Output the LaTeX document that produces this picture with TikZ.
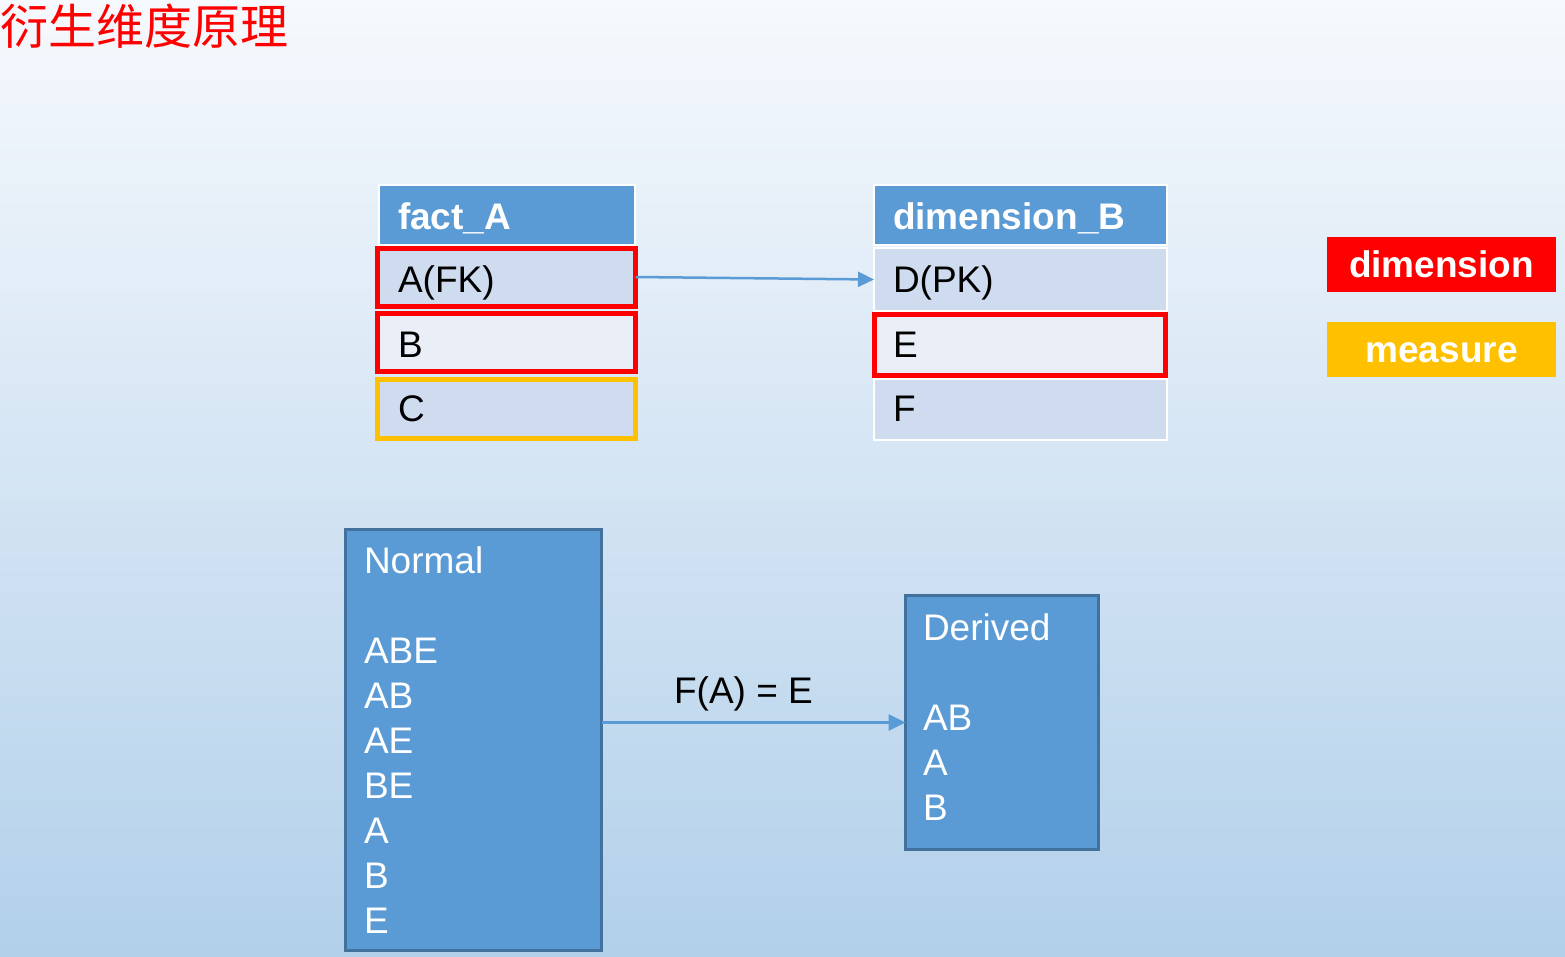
\documentclass[tikz,border=0pt]{standalone}
\usepackage{fontspec}
\setmainfont{Liberation Sans}
\newfontfamily\cjk{Noto Sans CJK SC}
\usetikzlibrary{arrows.meta}
\definecolor{hdr}{HTML}{5B9BD5}
\definecolor{rowA}{HTML}{CFDBEE}
\definecolor{rowB}{HTML}{E9EEF7}
\definecolor{bdr}{HTML}{41719C}
\definecolor{orng}{HTML}{FFC000}
\definecolor{bgtop}{HTML}{F6F9FD}
\definecolor{bgbot}{HTML}{B2D0EA}
\definecolor{arrc}{HTML}{5B9BD5}
\tikzset{
  box/.style={rectangle, inner sep=0pt, outer sep=0pt},
  hdrcell/.style={box, fill=hdr, draw=white, line width=2pt},
  plaincell/.style={box, draw=white, line width=2pt},
  redcell/.style={box, draw=red, line width=5pt},
  orcell/.style={box, draw=orng, line width=5pt},
  bigbox/.style={box, fill=hdr, draw=bdr, line width=3pt},
  txt/.style={inner sep=0pt, outer sep=0pt, anchor=base west, font=\fontsize{37}{45}\selectfont},
  btxt/.style={txt, font=\fontsize{37}{45}\selectfont\bfseries, text=white},
  wtxt/.style={txt, text=white},
  arr/.style={draw=arrc, line width=3pt, -{Triangle[length=17pt, width=16pt]}},
  legend/.style={box, minimum width=229pt, minimum height=55pt},
}
\begin{document}
\begin{tikzpicture}[x=1pt, y=-1pt]
\useasboundingbox (0,0) rectangle (1565,956);
\shade[top color=bgtop, bottom color=bgbot] (0,0) rectangle (1565,956);

% title
\node[inner sep=0pt, anchor=base west, text=red, font=\cjk\fontsize{48}{50}\selectfont] (title) at (0,44) {衍生维度原理};

% fact_A table
\node[hdrcell, minimum width=256pt, minimum height=60pt] (fah) at (507,215) {};
\node[redcell, fill=rowA, minimum width=258pt, minimum height=58pt] (fa1) at (506.5,277) {};
\node[redcell, fill=rowB, minimum width=258pt, minimum height=58pt] (fa2) at (506.5,342) {};
\node[orcell, fill=rowA, minimum width=258pt, minimum height=59pt] (fa3) at (506.5,409) {};
\node[btxt] (tfah) at (398,229) {fact\_A};
\node[txt] (tfa1) at (398,292) {A(FK)};
\node[txt] (tfa2) at (398,357) {B};
\node[txt] (tfa3) at (398,421) {C};

% dimension_B table
\node[hdrcell, minimum width=293pt, minimum height=60pt] (dbh) at (1020.5,215) {};
\node[plaincell, fill=rowA, minimum width=293pt, minimum height=63pt] (db1) at (1020.5,279.5) {};
\node[plaincell, fill=rowA, minimum width=293pt, minimum height=61pt] (db3) at (1020.5,409.5) {};
\node[redcell, fill=rowB, minimum width=291pt, minimum height=61pt] (db2) at (1020,345) {};
\node[btxt] (tdbh) at (893,229) {dimension\_B};
\node[txt] (tdb1) at (893,292) {D(PK)};
\node[txt] (tdb2) at (893,357) {E};
\node[txt] (tdb3) at (893,421) {F};

% FK -> PK arrow
\draw[draw=arrc, line width=2.5pt, -{Triangle[length=16pt, width=15pt]}] (fa1.east) -- (db1.west);

% legend
\node[legend, fill=red] (legd) at (1441.5,264.5) {};
\node[btxt, anchor=base] (tlegd) at (1441.5,277) {dimension};
\node[legend, fill=orng] (legm) at (1441.5,349.5) {};
\node[btxt, anchor=base] (tlegm) at (1441.5,362) {measure};

% Normal box
\node[bigbox, minimum width=256pt, minimum height=421pt] (normal) at (473.5,740) {};
\foreach \t/\y [count=\i] in {Normal/573, ABE/663, AB/708, AE/753, BE/798, A/843, B/888, E/933}
  \node[wtxt] (n\i) at (364,\y) {\t};

% Derived box
\node[bigbox, minimum width=193pt, minimum height=254pt] (derived) at (1002,722.5) {};
\foreach \t/\y [count=\i] in {Derived/640, AB/730, A/775, B/820}
  \node[wtxt] (d\i) at (923,\y) {\t};

% mapping arrow
\draw[arr] (normal.east |- derived.west) -- (derived.west);
\node[txt, anchor=base] (flabel) at (743.5,703) {F(A) = E};
\end{tikzpicture}
\end{document}
